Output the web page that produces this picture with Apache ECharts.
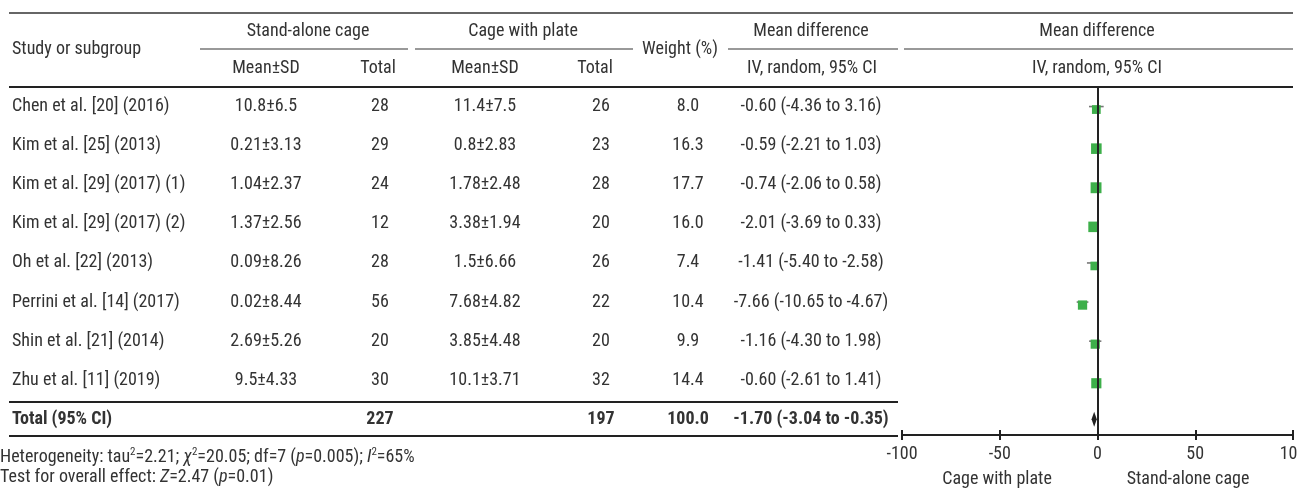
<!DOCTYPE html>
<html>
<head>
<meta charset="utf-8">
<script src="https://cdn.jsdelivr.net/npm/echarts@6/dist/echarts.min.js"></script>
<style>
  html, body { margin: 0; padding: 0; background: #fff; }
  #chart { width: 1298px; height: 491px; }
</style>
</head>
<body>
<div id="chart"></div>
<script>
// ---- Study data ----
const studies = [
  'Chen et al. [20] (2016)',
  'Kim et al. [25] (2013)',
  'Kim et al. [29] (2017) (1)',
  'Kim et al. [29] (2017) (2)',
  'Oh et al. [22] (2013)',
  'Perrini et al. [14] (2017)',
  'Shin et al. [21] (2014)',
  'Zhu et al. [11] (2019)'
];
const standAloneMeanSd = ['10.8±6.5', '0.21±3.13', '1.04±2.37', '1.37±2.56', '0.09±8.26', '0.02±8.44', '2.69±5.26', '9.5±4.33'];
const standAloneTotal = [28, 29, 24, 12, 28, 56, 20, 30];
const plateMeanSd = ['11.4±7.5', '0.8±2.83', '1.78±2.48', '3.38±1.94', '1.5±6.66', '7.68±4.82', '3.85±4.48', '10.1±3.71'];
const plateTotal = [26, 23, 28, 20, 26, 22, 20, 32];
const weights = [8.0, 16.3, 17.7, 16.0, 7.4, 10.4, 9.9, 14.4];
const meanDiff = [-0.60, -0.59, -0.74, -2.01, -1.41, -7.66, -1.16, -0.60];
const ciLow = [-4.36, -2.21, -2.06, -3.69, -5.40, -10.65, -4.30, -2.61];
const ciHigh = [3.16, 1.03, 0.58, 0.33, -2.58, -4.67, 1.98, 1.41];

// Pooled estimate
const totalLabel = 'Total (95% CI)';
const totalStandAlone = 227;
const totalPlate = 197;
const totalWeight = 100.0;
const totalMeanDiff = -1.70;
const totalLow = -3.04;
const totalHigh = -0.35;

// Forest plot axis
const axisTicks = [-100, -50, 0, 50, 100];
const favoursLeft = 'Cage with plate';
const favoursRight = 'Stand-alone cage';

// ---- Styling ----
const FONT = '"Liberation Sans Narrow", "Arial Narrow", "Roboto Condensed", "DejaVu Sans Condensed", sans-serif';
const FS = 18;
const TXT = '#333';
const GREEN = '#3daf4a';

// table column anchors (pixels) and alignment
const COLS = [
  { x: 12, align: 'left' },
  { x: 266, align: 'center' },
  { x: 380, align: 'center' },
  { x: 485, align: 'center' },
  { x: 601, align: 'center' },
  { x: 688, align: 'center' },
  { x: 811, align: 'center' }
];

const fmtCI = (m, lo, hi) => m.toFixed(2) + ' (' + lo.toFixed(2) + ' to ' + hi.toFixed(2) + ')';

const rowTexts = studies.map((s, i) => [
  s, standAloneMeanSd[i], String(standAloneTotal[i]), plateMeanSd[i], String(plateTotal[i]),
  weights[i].toFixed(1), fmtCI(meanDiff[i], ciLow[i], ciHigh[i])
]);
const totalRowIndex = studies.length;
rowTexts.push([totalLabel, '', String(totalStandAlone), '', String(totalPlate),
  totalWeight.toFixed(1), fmtCI(totalMeanDiff, totalLow, totalHigh)]);

function txt(text, x, y, align, opts) {
  opts = opts || {};
  return {
    type: 'text', silent: true,
    style: {
      text: text, x: x, y: y,
      align: align, textAlign: align,
      verticalAlign: 'middle', textVerticalAlign: 'middle',
      font: (opts.bold ? 'bold ' : '') + (opts.size || FS) + 'px ' + FONT,
      fill: TXT
    }
  };
}
function hline(x1, x2, y, w, color) {
  return {
    type: 'line', silent: true,
    shape: { x1: x1, y1: y, x2: x2, y2: y },
    style: { stroke: color || '#222', lineWidth: w || 2 }
  };
}

const supStyle = { fontSize: 11, fontFamily: FONT, fill: TXT, verticalAlign: 'top', lineHeight: 20 };
const itStyle = { fontSize: FS, fontFamily: FONT, fill: TXT, fontStyle: 'italic', lineHeight: 20 };
const baseRich = { fontSize: FS, fontFamily: FONT, fill: TXT, lineHeight: 20 };

const graphics = [
  // rules
  hline(9, 1293, 13, 1.6, '#333'),
  hline(200, 408, 49, 1.3, '#777'),
  hline(415, 633, 49, 1.3, '#777'),
  hline(728, 898, 49, 1.3, '#777'),
  hline(904, 1293, 49, 1.3, '#777'),
  hline(9, 1293, 87, 2, '#222'),
  hline(9, 898, 402, 2, '#222'),
  hline(9, 898, 436, 2, '#222'),
  // header texts
  txt('Study or subgroup', 12, 49, 'left'),
  txt('Stand-alone cage', 308, 31, 'center'),
  txt('Cage with plate', 523, 31, 'center'),
  txt('Weight (%)', 680, 49, 'center'),
  txt('Mean difference', 811, 31, 'center'),
  txt('Mean difference', 1097, 31, 'center'),
  txt('Mean±SD', 266, 68, 'center'),
  txt('Total', 378, 68, 'center'),
  txt('Mean±SD', 485, 68, 'center'),
  txt('Total', 595, 68, 'center'),
  txt('IV, random, 95% CI', 812, 68, 'center'),
  txt('IV, random, 95% CI', 1097, 68, 'center'),
  // favours labels
  txt(favoursLeft, 997, 479, 'center'),
  txt(favoursRight, 1188, 479, 'center'),
  // footnotes
  {
    type: 'text', silent: true,
    style: {
      x: 0, y: 457, align: 'left', textAlign: 'left', verticalAlign: 'middle', textVerticalAlign: 'middle',
      text: '{b|Heterogeneity: tau}{s|2}{b|=2.21; }{i|χ}{s|2}{b|=20.05; df=7 (}{i|p}{b|=0.005); }{i|I}{s|2}{b|=65%}',
      font: FS + 'px ' + FONT, fill: TXT,
      rich: { b: baseRich, s: supStyle, i: itStyle }
    }
  },
  {
    type: 'text', silent: true,
    style: {
      x: 0, y: 477, align: 'left', textAlign: 'left', verticalAlign: 'middle', textVerticalAlign: 'middle',
      text: '{b|Test for overall effect: }{i|Z}{b|=2.47 (}{i|p}{b|=0.01)}',
      font: FS + 'px ' + FONT, fill: TXT,
      rich: { b: baseRich, i: itStyle }
    }
  }
];

const chart = echarts.init(document.getElementById('chart'), null, { renderer: 'canvas' });

const option = {
  animation: false,
  backgroundColor: '#fff',
  grid: [{ left: 902, width: 391, top: 87, height: 348, containLabel: false, outerBoundsMode: 'none' }],
  xAxis: [
    {
      type: 'value', gridIndex: 0, position: 'bottom',
      min: -100, max: 100, interval: 50,
      splitLine: { show: false },
      axisLine: { show: true, onZero: false, lineStyle: { color: '#222', width: 2 } },
      axisTick: { show: true, inside: true, length: 5, lineStyle: { color: '#222', width: 2 } },
      axisLabel: { show: true, margin: 10, fontSize: FS, fontFamily: FONT, color: TXT,
        customValues: axisTicks, hideOverlap: false },
      axisPointer: { show: false }
    },
    {
      type: 'value', gridIndex: 0, position: 'bottom',
      min: -100, max: 100, interval: 50,
      splitLine: { show: false },
      axisLine: { show: false, onZero: false },
      axisTick: { show: true, inside: false, length: 5, lineStyle: { color: '#222', width: 2 } },
      axisLabel: { show: false }
    }
  ],
  yAxis: [{
    type: 'value', gridIndex: 0, inverse: true, min: -0.5, max: 8.4,
    show: false, splitLine: { show: false }
  }],
  graphic: { elements: graphics },
  series: [
    // table body: one row of text cells per study, plus the pooled row
    {
      type: 'custom', xAxisIndex: 0, yAxisIndex: 0, silent: true, z: 5,
      data: rowTexts.map((r, i) => [0, i]),
      renderItem: function (params, api) {
        const r = rowTexts[params.dataIndex];
        const y = api.coord([0, api.value(1)])[1];
        const bold = params.dataIndex === totalRowIndex;
        return {
          type: 'group',
          children: COLS.map((c, k) => txt(r[k], c.x, y, c.align, { bold: bold }))
        };
      }
    },
    // confidence interval whiskers
    {
      type: 'custom', xAxisIndex: 0, yAxisIndex: 0, silent: true, z: 3,
      data: studies.map((s, i) => [i, ciLow[i], ciHigh[i]]),
      encode: { x: [1, 2], y: 0 },
      renderItem: function (params, api) {
        const i = api.value(0);
        const a = api.coord([api.value(1), i]);
        const b = api.coord([api.value(2), i]);
        return {
          type: 'line',
          shape: { x1: a[0], y1: a[1], x2: b[0], y2: b[1] },
          style: { stroke: '#777', lineWidth: 1.6 }
        };
      }
    },
    // study point estimates, sized by weight
    {
      type: 'scatter', xAxisIndex: 0, yAxisIndex: 0, silent: true, z: 4,
      symbol: 'rect',
      symbolSize: function (v) { return 7 + v[2] * 0.22; },
      symbolOffset: [0, 3],
      itemStyle: { color: GREEN, opacity: 1 },
      data: meanDiff.map((m, i) => [m, i, weights[i]]),
      markLine: {
        silent: true, symbol: ['none', 'none'],
        label: { show: false },
        lineStyle: { color: '#222', width: 2, type: 'solid' },
        data: [{ xAxis: 0 }]
      }
    },
    // pooled estimate diamond
    {
      type: 'custom', xAxisIndex: 0, yAxisIndex: 0, silent: true, z: 6,
      data: [[totalMeanDiff, totalRowIndex, totalLow, totalHigh]],
      renderItem: function (params, api) {
        const row = api.value(1);
        const mid = api.coord([api.value(0), row]);
        const lo = api.coord([api.value(2), row]);
        const hi = api.coord([api.value(3), row]);
        const h = 7.5;
        return {
          type: 'polygon',
          shape: { points: [[lo[0], mid[1]], [mid[0], mid[1] - h], [hi[0], mid[1]], [mid[0], mid[1] + h]] },
          style: { fill: '#222' }
        };
      }
    }
  ]
};

chart.setOption(option);
</script>
</body>
</html>
